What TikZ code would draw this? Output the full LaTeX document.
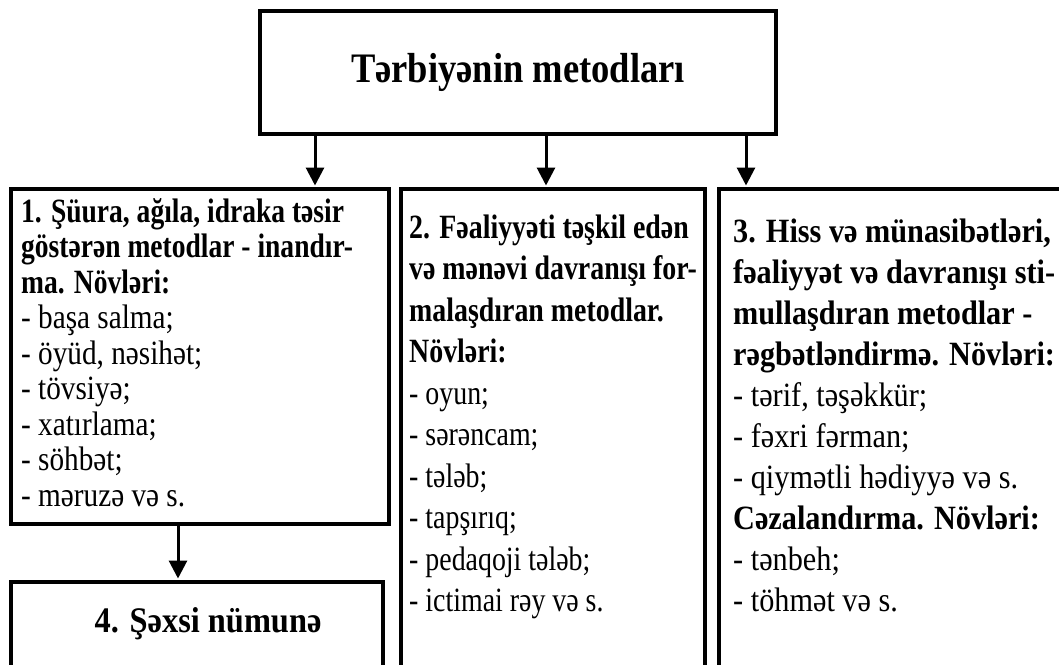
\documentclass[tikz,border=0pt]{standalone}
\usepackage{fontspec}
\setmainfont{Liberation Serif}
\newfontfamily\fA[FakeStretch=0.86]{Liberation Serif}
\newfontfamily\fAb[FakeStretch=0.81]{Liberation Serif}
\newfontfamily\fB[FakeStretch=0.82]{Liberation Serif}
\newfontfamily\fC[FakeStretch=0.89]{Liberation Serif}
\newfontfamily\fT[FakeStretch=0.87]{Liberation Serif}
\newfontfamily\fD[FakeStretch=0.90]{Liberation Serif}
\newcommand\hA{\fAb\bfseries}
\usetikzlibrary{arrows.meta}
\begin{document}
\begin{tikzpicture}[x=1pt,y=-1pt,
  box/.style={draw, line width=3.5pt, rectangle, inner sep=0pt, anchor=north west},
  arr/.style={line width=3pt, -{Triangle[length=18pt,width=18pt]}, shorten >=1.5pt},
  txta/.style={anchor=base west, inner sep=0pt, font=\fA\fontsize{34}{36}\selectfont},
  txtb/.style={anchor=base west, inner sep=0pt, font=\fB\fontsize{34}{36}\selectfont},
  txtc/.style={anchor=base west, inner sep=0pt, font=\fC\fontsize{34}{36}\selectfont}]
\useasboundingbox (0,0) rectangle (1059,664);
\clip (0,0) rectangle (1059,664);
% boxes
\node[box, line width=4pt, minimum width=516pt, minimum height=123pt] (top) at (258,9) {};
\node[box, minimum width=378pt, minimum height=335pt] (b1) at (9,187) {};
\node[box, minimum width=304pt, minimum height=540pt] (b2) at (399,187) {};
\node[box, minimum width=360pt, minimum height=540pt] (b3) at (717,187) {};
\node[box, minimum width=372pt, minimum height=140pt] (b4) at (9,580) {};
% titles
\node[font=\fT\bfseries\fontsize{42}{46}\selectfont] (title) at (top.center) {Tərbiyənin metodları};
\node[font=\fD\bfseries\fontsize{36}{40}\selectfont, anchor=base] (t4) at (208,632) {4. Şəxsi nümunə};
% arrows
\coordinate (c1) at (315,0);
\coordinate (c2) at (546,0);
\coordinate (c3) at (746,0);
\coordinate (c4) at (178,0);
\draw[arr] (top.south -| c1) -- (b1.north -| c1);
\draw[arr] (top.south -| c2) -- (b2.north -| c2);
\draw[arr] (top.south -| c3) -- (b3.north -| c3);
\draw[arr] (b1.south -| c4) -- (b4.north -| c4);
% box 1 text
\foreach \t [count=\i] in {{\hA 1. Şüura, ağıla, idraka təsir},
  {\hA göstərən metodlar - inandır-},
  {\hA ma. Növləri:},
  {- başa salma;}, {- öyüd, nəsihət;}, {- tövsiyə;}, {- xatırlama;},
  {- söhbət;}, {- məruzə və s.}}
  \node[txta] (b1l\i) at (21,{222+(\i-1)*35.5}) {\t};
% box 2 text
\foreach \t [count=\i] in {{\bfseries 2. Fəaliyyəti təşkil edən},
  {\bfseries və mənəvi davranışı for-},
  {\bfseries malaşdıran metodlar.},
  {\bfseries Növləri:},
  {- oyun;}, {- sərəncam;}, {- tələb;}, {- tapşırıq;},
  {- pedaqoji tələb;}, {- ictimai rəy və s.}}
  \node[txtb] (b2l\i) at (409,{238+(\i-1)*41.5}) {\t};
% box 3 text
\foreach \t [count=\i] in {{\bfseries 3. Hiss və münasibətləri,},
  {\bfseries fəaliyyət və davranışı sti-},
  {\bfseries mullaşdıran metodlar -},
  {\bfseries rəgbətləndirmə. Növləri:},
  {- tərif, təşəkkür;}, {- fəxri fərman;}, {- qiymətli hədiyyə və s.},
  {\bfseries Cəzalandırma. Növləri:},
  {- tənbeh;}, {- töhmət və s.}}
  \node[txtc] (b3l\i) at (733,{242+(\i-1)*41}) {\t};
\end{tikzpicture}
\end{document}
